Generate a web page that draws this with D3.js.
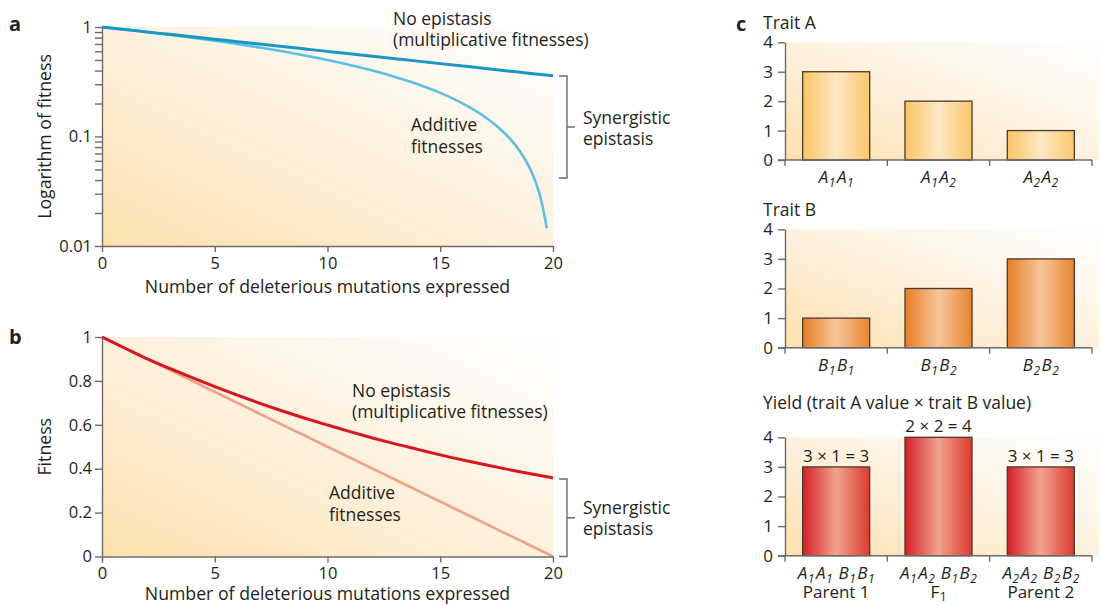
<!DOCTYPE html>
<html>
<head>
<meta charset="utf-8">
<script src="https://cdn.jsdelivr.net/npm/d3@7"></script>
<style>
  body { margin: 0; background: #fff; }
  text { font-family: "Open Sans", sans-serif; fill: #231f20; }
  .axis path, .axis line { stroke: #6f6a66; stroke-width: 1.4; }
  .axis text { fill: #231f20; }
</style>
</head>
<body>
<div id="chart"></div>
<script>
// panels a and b: fitness vs number of deleterious mutations
const mutations = [0, 1, 2, 3, 4, 5, 6, 7, 8, 9, 10, 11, 12, 13, 14, 15, 16, 17, 18, 19, 20];
const multFitness = [1, 0.95, 0.90, 0.857, 0.815, 0.774, 0.735, 0.698, 0.663, 0.630, 0.599,
                     0.569, 0.540, 0.513, 0.488, 0.463, 0.440, 0.418, 0.397, 0.377, 0.358];
const addFitness = [1, 0.95, 0.90, 0.85, 0.80, 0.75, 0.70, 0.65, 0.60, 0.55, 0.50,
                    0.45, 0.40, 0.35, 0.30, 0.25, 0.20, 0.15, 0.10, 0.05, 0];
// additive curve on the log plot, denser near its end, stops just before 20
const logAddMutations = [0, 1, 2, 3, 4, 5, 6, 7, 8, 9, 10, 11, 12, 13, 14, 15, 16, 16.5, 17, 17.5,
                         18, 18.5, 19, 19.25, 19.5, 19.73];
const logAddFitness = [1, 0.95, 0.90, 0.85, 0.80, 0.75, 0.70, 0.65, 0.60, 0.55, 0.50,
                       0.45, 0.40, 0.35, 0.30, 0.25, 0.20, 0.175, 0.15, 0.125,
                       0.10, 0.075, 0.05, 0.0375, 0.025, 0.0145];
const xTicks = [0, 5, 10, 15, 20];
const logMajorTicks = [0.01, 0.1, 1];
const linTicks = [0, 0.2, 0.4, 0.6, 0.8, 1];

// panel c: bar charts
const traitAGenotypes = ["A1A1", "A1A2", "A2A2"];
const traitAValues = [3, 2, 1];
const traitBGenotypes = ["B1B1", "B1B2", "B2B2"];
const traitBValues = [1, 2, 3];
const yieldGenotypes = ["A1A1 B1B1", "A1A2 B1B2", "A2A2 B2B2"];
const yieldNames = ["Parent 1", "F1", "Parent 2"];
const yieldValues = [3, 4, 3];
const yieldProducts = ["3 × 1 = 3", "2 × 2 = 4", "3 × 1 = 3"];
const barTicks = [0, 1, 2, 3, 4];

const W = 1101, H = 606;
const svg = d3.select("#chart").append("svg")
    .attr("width", W).attr("height", H);

const defs = svg.append("defs");

// background wash: orange at lower left fading to white at upper right
function bgGradient(id) {
    const g = defs.append("linearGradient").attr("id", id)
        .attr("x1", 0).attr("y1", 1).attr("x2", 1).attr("y2", 0);
    g.append("stop").attr("offset", 0).attr("stop-color", "#fde0ac");
    g.append("stop").attr("offset", 0.45).attr("stop-color", "#fdf0da");
    g.append("stop").attr("offset", 1).attr("stop-color", "#ffffff");
}
bgGradient("bgLine");
bgGradient("bgBar");

// cylinder shading on bars
function barGradient(id, edge, mid, edge2) {
    const g = defs.append("linearGradient").attr("id", id)
        .attr("x1", 0).attr("y1", 0).attr("x2", 1).attr("y2", 0);
    g.append("stop").attr("offset", 0).attr("stop-color", edge);
    g.append("stop").attr("offset", 0.5).attr("stop-color", mid);
    g.append("stop").attr("offset", 1).attr("stop-color", edge2);
}
barGradient("barYellow", "#fcc462", "#fde8c4", "#fcc76a");
barGradient("barOrange", "#e67d25", "#f7c79b", "#e8832e");
barGradient("barRed", "#d41f26", "#f2a38c", "#db3a30");

function panelLetter(x, y, t) {
    svg.append("text").attr("x", x).attr("y", y)
        .style("font-size", "20px").style("font-weight", "bold")
        .text(t);
}

function multiLine(x, y, lines, lh) {
    const t = svg.append("text").attr("x", x).attr("y", y).style("font-size", "17.5px");
    lines.forEach((s, i) => {
        t.append("tspan").attr("x", x).attr("dy", i === 0 ? 0 : lh).text(s);
    });
}

function bracket(x, y0, y1) {
    const ym = (y0 + y1) / 2;
    svg.append("path")
        .attr("d", `M${x - 8},${y0} H${x} V${y1} H${x - 8} M${x},${ym} H${x + 8}`)
        .attr("fill", "none").attr("stroke", "#6f6a66").attr("stroke-width", 1.4);
}

function drawLinePanel(cfg) {
    const x = d3.scaleLinear().domain([0, 20]).range([102, 553]);
    const y = cfg.y;
    const top = y(1), bottom = y.range()[0];

    svg.append("rect")
        .attr("x", x(0)).attr("y", top)
        .attr("width", x(20) - x(0)).attr("height", bottom - top)
        .attr("fill", "url(#bgLine)");

    const line = d3.line()
        .x(d => x(d[0])).y(d => y(d[1]))
        .curve(d3.curveMonotoneX);

    svg.append("path")
        .datum(d3.zip(cfg.addX, cfg.addY))
        .attr("fill", "none").attr("stroke", cfg.addColor)
        .attr("stroke-width", 2.6).attr("d", line);
    svg.append("path")
        .datum(d3.zip(mutations, multFitness))
        .attr("fill", "none").attr("stroke", cfg.multColor)
        .attr("stroke-width", 3).attr("d", line);

    svg.append("g").attr("class", "axis")
        .attr("transform", `translate(0,${bottom})`)
        .call(d3.axisBottom(x).tickValues(xTicks).tickSize(6).tickPadding(5).tickSizeOuter(0))
        .call(g => g.selectAll("text").style("font-size", "16.5px"));

    svg.append("g").attr("class", "axis")
        .attr("transform", `translate(${x(0)},0)`)
        .call(cfg.yAxis.tickSize(7).tickPadding(3).tickSizeOuter(0))
        .call(g => g.selectAll("text").style("font-size", "16.5px"));

    svg.append("text")
        .attr("x", (x(0) + x(20)) / 2).attr("y", cfg.xTitleY)
        .attr("text-anchor", "middle").style("font-size", "17.7px")
        .text("Number of deleterious mutations expressed");

    svg.append("text")
        .attr("transform", `translate(51,${(top + bottom) / 2}) rotate(-90)`)
        .attr("text-anchor", "middle").style("font-size", "17.7px")
        .text(cfg.yTitle);
}

// panel a
const yLog = d3.scaleLog().domain([0.01, 1]).range([246, 27]);
drawLinePanel({
    y: yLog,
    yAxis: d3.axisLeft(yLog).tickValues(yLog.ticks())
        .tickFormat(d => logMajorTicks.some(m => Math.abs(m - d) < 1e-9) ? String(d) : ""),
    addX: logAddMutations, addY: logAddFitness,
    addColor: "#5cbfe6", multColor: "#1b97c6",
    xTitleY: 293, yTitle: "Logarithm of fitness"
});
panelLetter(9, 31, "a");
multiLine(393, 25, ["No epistasis", "(multiplicative fitnesses)"], 21);
multiLine(411, 131, ["Additive", "fitnesses"], 22);
bracket(567, 76, 178);
multiLine(583, 124, ["Synergistic", "epistasis"], 21);

// panel b
const yLin = d3.scaleLinear().domain([0, 1]).range([556.5, 337]);
drawLinePanel({
    y: yLin,
    yAxis: d3.axisLeft(yLin).tickValues(linTicks).tickFormat(d => (d === 0 || d === 1) ? String(d) : d.toFixed(1)),
    addX: mutations, addY: addFitness,
    addColor: "#f0a185", multColor: "#d7161f",
    xTitleY: 600, yTitle: "Fitness"
});
panelLetter(9, 344, "b");
multiLine(352, 397, ["No epistasis", "(multiplicative fitnesses)"], 21);
multiLine(329, 499, ["Additive", "fitnesses"], 22);
bracket(567, 479, 556.5);
multiLine(583, 514, ["Synergistic", "epistasis"], 21);

// label with subscripts: a digit right after a letter is set as a subscript ("A1A2", "F1")
function genotypeText(sel, label, italic, subDy) {
    const t = sel.style("font-style", italic ? "italic" : "normal");
    const parts = [];
    let buf = "";
    for (let i = 0; i < label.length; i++) {
        const ch = label[i];
        if (/\d/.test(ch) && i > 0 && /[A-Z]/.test(label[i - 1])) {
            if (buf) parts.push({text: buf, sub: false});
            parts.push({text: ch, sub: true});
            buf = "";
        } else {
            buf += ch;
        }
    }
    if (buf) parts.push({text: buf, sub: false});

    let down = false;
    parts.forEach(p => {
        if (p.sub) {
            t.append("tspan").attr("dy", subDy).attr("dx", 0.5)
                .style("font-size", "12px").text(p.text);
            down = true;
        } else {
            t.append("tspan").attr("dy", down ? -subDy : 0).attr("dx", down ? 1.5 : 0)
                .text(p.text.replace(/ /g, "\u00a0"));
            down = false;
        }
    });
}

function drawBarPanel(cfg) {
    const x = d3.scaleBand().domain(cfg.labels).range([785, 1092])
        .paddingInner(0.345).paddingOuter(0.1725);
    const y = d3.scaleLinear().domain([0, 4]).range(cfg.yRange);
    const step = x.step();

    svg.append("rect")
        .attr("x", 785).attr("y", y(4))
        .attr("width", 1099 - 785).attr("height", y(0) - y(4))
        .attr("fill", "url(#bgBar)");

    svg.append("g").selectAll("rect")
        .data(cfg.values)
        .join("rect")
        .attr("x", (d, i) => x(cfg.labels[i]))
        .attr("y", d => y(d))
        .attr("width", x.bandwidth())
        .attr("height", d => y(0) - y(d))
        .attr("fill", `url(#${cfg.fill})`)
        .attr("stroke", "#4a3b30").attr("stroke-width", 1.3);

    // y axis
    svg.append("g").attr("class", "axis")
        .attr("transform", "translate(785,0)")
        .call(d3.axisLeft(y).tickValues(barTicks).tickFormat(d3.format("d"))
            .tickSize(7).tickPadding(5).tickSizeOuter(0))
        .call(g => g.selectAll("text").style("font-size", "17px"));

    // x axis with ticks at the band boundaries
    const bounds = [785].concat(cfg.labels.map(l => x(l) + x.bandwidth() + step * 0.1725));
    const ax = svg.append("g").attr("class", "axis");
    ax.append("line").attr("x1", 778).attr("x2", 1092).attr("y1", y(0)).attr("y2", y(0));
    ax.selectAll("line.tk").data(bounds).join("line").attr("class", "tk")
        .attr("x1", d => d).attr("x2", d => d)
        .attr("y1", y(0)).attr("y2", y(0) + 6);

    svg.append("g").selectAll("text")
        .data(cfg.labels)
        .join("text")
        .attr("x", d => x(d) + x.bandwidth() / 2)
        .attr("y", y(0) + 23)
        .attr("text-anchor", "middle")
        .style("font-size", "17px")
        .each(function(d) { genotypeText(d3.select(this), d, true, 4); });

    svg.append("text").attr("x", 763).attr("y", cfg.titleY)
        .style("font-size", "17.5px").text(cfg.title);

    return {x, y};
}

panelLetter(736, 31, "c");
drawBarPanel({
    labels: traitAGenotypes, values: traitAValues, fill: "barYellow",
    yRange: [160, 42.3], title: "Trait A", titleY: 29
});
drawBarPanel({
    labels: traitBGenotypes, values: traitBValues, fill: "barOrange",
    yRange: [347.7, 229.3], title: "Trait B", titleY: 216
});
const yieldScales = drawBarPanel({
    labels: yieldGenotypes, values: yieldValues, fill: "barRed",
    yRange: [555.7, 437.3], title: "Yield (trait A value × trait B value)", titleY: 409
});

svg.append("g").selectAll("text")
    .data(yieldProducts)
    .join("text")
    .attr("x", (d, i) => yieldScales.x(yieldGenotypes[i]) + yieldScales.x.bandwidth() / 2)
    .attr("y", (d, i) => yieldScales.y(yieldValues[i]) - 5)
    .attr("text-anchor", "middle")
    .style("font-size", "17px")
    .text(d => d);

svg.append("g").selectAll("text")
    .data(yieldNames)
    .join("text")
    .attr("x", (d, i) => yieldScales.x(yieldGenotypes[i]) + yieldScales.x.bandwidth() / 2)
    .attr("y", 598)
    .attr("text-anchor", "middle")
    .style("font-size", "17px")
    .each(function(d) { genotypeText(d3.select(this), d, false, 2.5); });
</script>
</body>
</html>
